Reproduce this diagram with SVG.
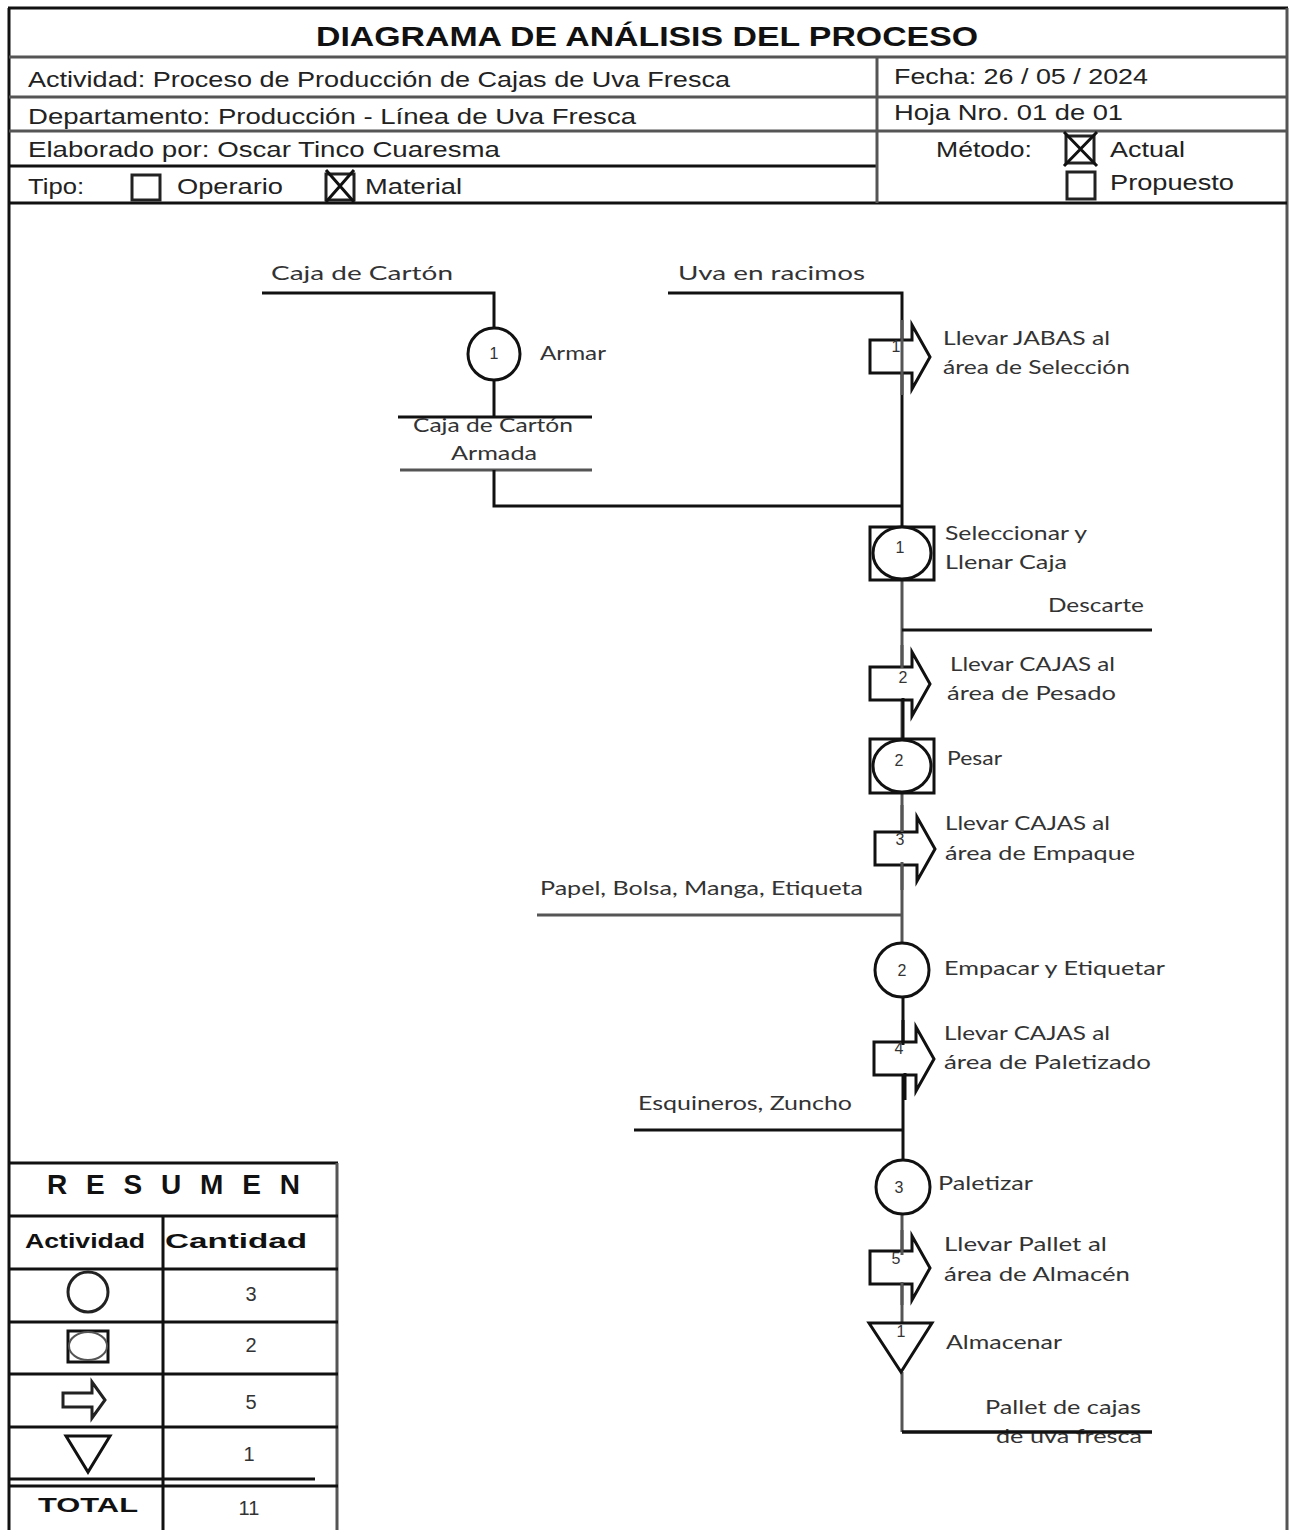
<svg xmlns="http://www.w3.org/2000/svg" width="1293" height="1530" viewBox="0 0 1293 1530">
<style>
.ln{stroke:#111;stroke-width:3;fill:none}
.gl{stroke:#555;stroke-width:3;fill:none}
.hd{font-family:"Liberation Sans",Arial,sans-serif;font-size:22px;fill:#222}
.tt{font-family:"Liberation Sans",Arial,sans-serif;font-size:28px;font-weight:bold;fill:#111}
.lb{font-family:Lato,"Open Sans",sans-serif;font-size:20px;fill:#333}
.num{font-family:"Liberation Sans",Arial,sans-serif;font-size:16px;fill:#333;text-anchor:middle}
.sh{fill:#fff;stroke:#111;stroke-width:3}
.bx{fill:#fff;stroke:#222;stroke-width:3}
.tb{font-family:"Liberation Sans",Arial,sans-serif;font-size:20px;font-weight:bold;fill:#111;text-anchor:middle}
.tn{font-family:"Liberation Sans",Arial,sans-serif;font-size:20px;fill:#333;text-anchor:middle}
</style>
<defs>
<path id="arrow" d="M0,15 H42 V0 L60,32 L42,64 V48 H0 Z"/>
</defs>
<rect width="1293" height="1530" fill="#fff"/>

<g id="header">
<line class="ln" x1="9" y1="8" x2="9" y2="1530"/>
<line class="ln" x1="8" y1="8" x2="1288" y2="8"/>
<line class="gl" x1="1287" y1="8" x2="1287" y2="1530"/>
<line class="gl" x1="9" y1="57" x2="1287" y2="57"/>
<line class="gl" x1="9" y1="97" x2="1287" y2="97"/>
<line class="gl" x1="9" y1="131" x2="1287" y2="131"/>
<line class="ln" x1="9" y1="166" x2="876" y2="166"/>
<line class="ln" x1="9" y1="203" x2="1287" y2="203"/>
<line class="gl" x1="877" y1="57" x2="877" y2="203"/>
<text class="tt" x="316" y="46" textLength="662" lengthAdjust="spacingAndGlyphs">DIAGRAMA DE ANÁLISIS DEL PROCESO</text>
<text class="hd" x="28" y="87" textLength="702" lengthAdjust="spacingAndGlyphs">Actividad: Proceso de Producción de Cajas de Uva Fresca</text>
<text class="hd" x="28" y="124" textLength="608" lengthAdjust="spacingAndGlyphs">Departamento: Producción - Línea de Uva Fresca</text>
<text class="hd" x="28" y="157" textLength="472" lengthAdjust="spacingAndGlyphs">Elaborado por: Oscar Tinco Cuaresma</text>
<text class="hd" x="28" y="194" textLength="56" lengthAdjust="spacingAndGlyphs">Tipo:</text>
<rect class="bx" x="132" y="175" width="28" height="25"/>
<text class="hd" x="177" y="194" textLength="106" lengthAdjust="spacingAndGlyphs">Operario</text>
<rect class="bx" x="326" y="174" width="28" height="26"/>
<path class="ln" d="M326,170 L354,202 M354,170 L326,202" stroke-width="4"/>
<text class="hd" x="365" y="194" textLength="97" lengthAdjust="spacingAndGlyphs">Material</text>
<text class="hd" x="894" y="84" textLength="254" lengthAdjust="spacingAndGlyphs">Fecha: 26 / 05 / 2024</text>
<text class="hd" x="894" y="120" textLength="229" lengthAdjust="spacingAndGlyphs">Hoja Nro. 01 de 01</text>
<text class="hd" x="936" y="157" textLength="96" lengthAdjust="spacingAndGlyphs">Método:</text>
<rect class="bx" x="1066" y="136" width="28" height="27"/>
<path class="ln" d="M1064,132 L1097,166 M1097,132 L1064,166" stroke-width="4"/>
<text class="hd" x="1110" y="157" textLength="75" lengthAdjust="spacingAndGlyphs">Actual</text>
<rect class="bx" x="1067" y="172" width="28" height="27"/>
<text class="hd" x="1110" y="190" textLength="124" lengthAdjust="spacingAndGlyphs">Propuesto</text>
</g>

<g id="connectors">
<polyline class="ln" points="262,293 494,293 494,330"/>
<line class="ln" x1="494" y1="379" x2="494" y2="417"/>
<line class="ln" x1="398" y1="417" x2="592" y2="417"/>
<line class="gl" x1="400" y1="470" x2="592" y2="470"/>
<polyline class="ln" points="494,470 494,506 902,506"/>
<polyline class="ln" points="668,293 902,293 902,527"/>
<line class="gl" x1="902" y1="580" x2="902" y2="738"/>
<line class="ln" x1="902" y1="630" x2="1152" y2="630"/>
<line class="gl" x1="902" y1="793" x2="902" y2="943"/>
<line class="gl" x1="537" y1="915" x2="902" y2="915"/>
<line class="ln" x1="903" y1="997" x2="903" y2="1160"/>
<line class="ln" x1="634" y1="1130" x2="904" y2="1130"/>
<line class="gl" x1="902" y1="1214" x2="902" y2="1323"/>
<polyline class="gl" points="902,1372 902,1432"/>
<line class="ln" x1="902" y1="1432" x2="1152" y2="1432"/>
</g>

<g id="in-caja">
<text class="lb" x="271" y="280" font-size="22" textLength="182" lengthAdjust="spacingAndGlyphs">Caja de Cartón</text>
</g>
<g id="op1">
<circle class="sh" cx="494" cy="354" r="26"/>
<text class="num" x="494" y="359">1</text>
<text class="lb" x="540" y="360" textLength="66" lengthAdjust="spacingAndGlyphs">Armar</text>
</g>
<g id="out-caja">
<text class="lb" x="413" y="432" font-size="18" textLength="160" lengthAdjust="spacingAndGlyphs">Caja de Cartón</text>
<text class="lb" x="451" y="460" font-size="18" textLength="86" lengthAdjust="spacingAndGlyphs">Armada</text>
</g>
<g id="in-uva">
<text class="lb" x="678" y="280" font-size="22" textLength="187" lengthAdjust="spacingAndGlyphs">Uva en racimos</text>
</g>

<g id="tr1">
<use href="#arrow" x="870" y="325" class="sh"/>
<text class="num" x="896" y="352" font-size="13">1</text>
<line class="gl" x1="902" y1="320" x2="902" y2="395"/>
<text class="lb" x="943" y="345" textLength="167" lengthAdjust="spacingAndGlyphs">Llevar JABAS al</text>
<text class="lb" x="943" y="374" textLength="187" lengthAdjust="spacingAndGlyphs">área de Selección</text>
</g>

<g id="comb1">
<rect class="sh" x="870" y="527" width="64" height="53"/>
<ellipse class="sh" cx="902" cy="553" rx="29" ry="26"/>
<text class="num" x="900" y="553" font-size="14">1</text>
<text class="lb" x="945" y="540" textLength="142" lengthAdjust="spacingAndGlyphs">Seleccionar y</text>
<text class="lb" x="945" y="569" textLength="122" lengthAdjust="spacingAndGlyphs">Llenar Caja</text>
</g>
<g id="descarte">
<text class="lb" x="1048" y="612" textLength="96" lengthAdjust="spacingAndGlyphs">Descarte</text>
</g>

<g id="tr2">
<use href="#arrow" x="870" y="652" class="sh"/>
<text class="num" x="903" y="683" font-size="13">2</text>
<line class="gl" x1="902" y1="645" x2="902" y2="668"/>
<line class="ln" x1="903" y1="698" x2="903" y2="738"/>
<text class="lb" x="950" y="671" textLength="165" lengthAdjust="spacingAndGlyphs">Llevar CAJAS al</text>
<text class="lb" x="947" y="700" textLength="169" lengthAdjust="spacingAndGlyphs">área de Pesado</text>
</g>

<g id="comb2">
<rect class="sh" x="870" y="739" width="64" height="54"/>
<ellipse class="sh" cx="902" cy="766" rx="29" ry="26"/>
<text class="num" x="899" y="766" font-size="14">2</text>
<text class="lb" x="947" y="765" textLength="55" lengthAdjust="spacingAndGlyphs">Pesar</text>
</g>

<g id="tr3">
<use href="#arrow" x="875" y="817" class="sh"/>
<text class="num" x="900" y="845" font-size="13">3</text>
<line class="gl" x1="902" y1="805" x2="902" y2="832"/>
<line class="gl" x1="902" y1="862" x2="902" y2="890"/>
<text class="lb" x="945" y="830" textLength="165" lengthAdjust="spacingAndGlyphs">Llevar CAJAS al</text>
<text class="lb" x="945" y="860" textLength="190" lengthAdjust="spacingAndGlyphs">área de Empaque</text>
</g>
<g id="in-papel">
<text class="lb" x="540" y="895" textLength="323" lengthAdjust="spacingAndGlyphs">Papel, Bolsa, Manga, Etiqueta</text>
</g>

<g id="op2">
<circle class="sh" cx="902" cy="970" r="27"/>
<text class="num" x="902" y="976" font-size="17">2</text>
<text class="lb" x="944" y="975" textLength="221" lengthAdjust="spacingAndGlyphs">Empacar y Etiquetar</text>
</g>

<g id="tr4">
<use href="#arrow" x="874" y="1027" class="sh"/>
<text class="num" x="899" y="1054" font-size="13">4</text>
<line class="ln" x1="903" y1="1020" x2="903" y2="1045"/>
<line class="ln" x1="905" y1="1073" x2="905" y2="1100"/>
<text class="lb" x="944" y="1040" textLength="166" lengthAdjust="spacingAndGlyphs">Llevar CAJAS al</text>
<text class="lb" x="944" y="1069" textLength="207" lengthAdjust="spacingAndGlyphs">área de Paletizado</text>
</g>
<g id="in-esq">
<text class="lb" x="638" y="1110" textLength="214" lengthAdjust="spacingAndGlyphs">Esquineros, Zuncho</text>
</g>

<g id="op3">
<circle class="sh" cx="903" cy="1187" r="27"/>
<text class="num" x="899" y="1193" font-size="17">3</text>
<text class="lb" x="938" y="1190" textLength="95" lengthAdjust="spacingAndGlyphs">Paletizar</text>
</g>

<g id="tr5">
<use href="#arrow" x="870" y="1236" class="sh"/>
<text class="num" x="896" y="1264" font-size="13">5</text>
<line class="gl" x1="902" y1="1230" x2="902" y2="1255"/>
<line class="gl" x1="902" y1="1282" x2="902" y2="1305"/>
<text class="lb" x="944" y="1251" textLength="163" lengthAdjust="spacingAndGlyphs">Llevar Pallet al</text>
<text class="lb" x="944" y="1281" textLength="186" lengthAdjust="spacingAndGlyphs">área de Almacén</text>
</g>

<g id="alm1">
<polygon class="sh" points="869,1323 932,1323 901,1372"/>
<text class="num" x="901" y="1337" font-size="12">1</text>
<text class="lb" x="946" y="1349" textLength="116" lengthAdjust="spacingAndGlyphs">Almacenar</text>
</g>
<g id="out-pallet">
<text class="lb" x="985" y="1414" textLength="156" lengthAdjust="spacingAndGlyphs">Pallet de cajas</text>
<text class="lb" x="996" y="1443" textLength="146" lengthAdjust="spacingAndGlyphs">de uva fresca</text>
<line class="ln" x1="902" y1="1432" x2="1152" y2="1432"/>
</g>

<g id="resumen">
<line class="ln" x1="9" y1="1163" x2="338" y2="1163"/>
<line class="gl" x1="337" y1="1163" x2="337" y2="1530"/>
<text class="tt" x="47" y="1194" textLength="253" lengthAdjust="spacing" font-size="30">RESUMEN</text>
<line class="ln" x1="9" y1="1216" x2="338" y2="1216"/>
<line class="ln" x1="163" y1="1216" x2="163" y2="1530"/>
<text class="tb" x="85" y="1248" textLength="120" lengthAdjust="spacingAndGlyphs">Actividad</text>
<text class="tb" x="236" y="1248" textLength="142" lengthAdjust="spacingAndGlyphs">Cantidad</text>
<line class="ln" x1="9" y1="1269" x2="338" y2="1269"/>
<circle class="bx" cx="88" cy="1292" r="20"/>
<text class="tn" x="251" y="1301">3</text>
<line class="ln" x1="9" y1="1322" x2="338" y2="1322"/>
<rect class="sh" x="68" y="1331" width="40" height="31"/>
<ellipse cx="88" cy="1346" rx="19" ry="14" fill="#fff" stroke="#555" stroke-width="2"/>
<text class="tn" x="251" y="1352">2</text>
<line class="ln" x1="9" y1="1374" x2="338" y2="1374"/>
<path class="bx" d="M63,1393 H92 V1382 L105,1400 L92,1418 V1407 H63 Z"/>
<text class="tn" x="251" y="1409">5</text>
<line class="ln" x1="9" y1="1427" x2="338" y2="1427"/>
<polygon class="sh" points="66,1436 110,1436 88,1472"/>
<text class="tn" x="249" y="1461">1</text>
<line class="ln" x1="9" y1="1479" x2="315" y2="1479"/>
<line class="ln" x1="9" y1="1486" x2="338" y2="1486"/>
<text class="tb" x="88" y="1512" font-size="24" textLength="100" lengthAdjust="spacingAndGlyphs">TOTAL</text>
<text class="tn" x="249" y="1515">11</text>
</g>
</svg>
